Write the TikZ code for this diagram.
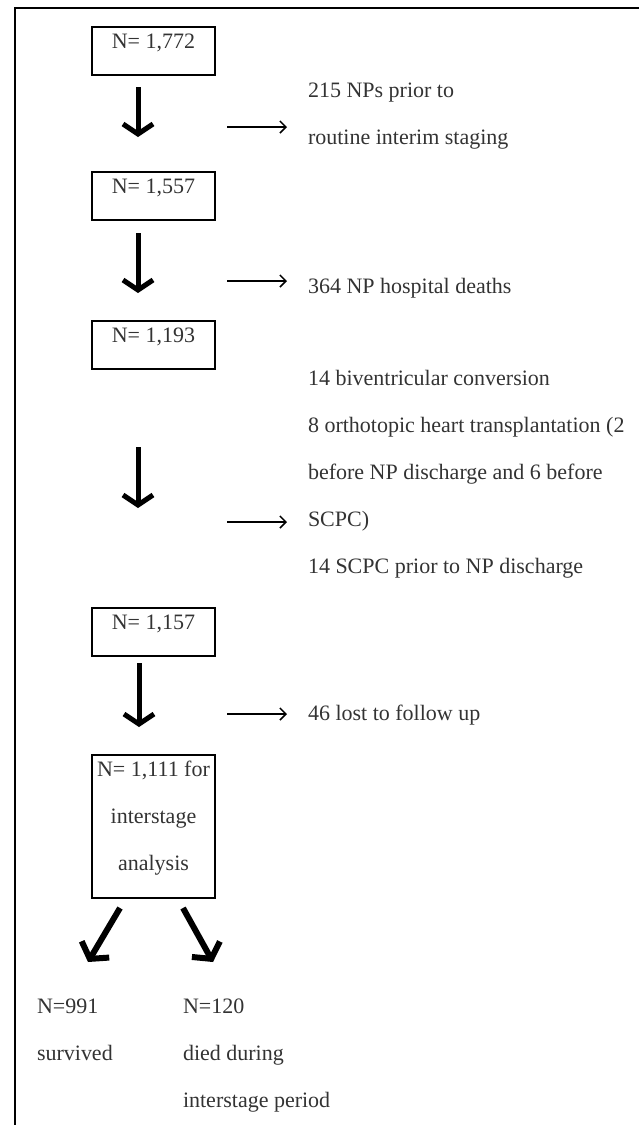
\documentclass[tikz,border=0pt]{standalone}
\usepackage{fontspec}
\setmainfont{Liberation Serif}
\usetikzlibrary{arrows.meta}
\begin{document}
\begin{tikzpicture}[x=1pt,y=-1pt,
  every node/.style={inner sep=0pt, outer sep=0pt, text=black!80, font=\fontsize{22}{47}\selectfont},
  box/.style={draw=black, line width=1.2pt, minimum width=123pt, inner xsep=2pt, inner ysep=0pt, align=center, anchor=north west, text height=21pt, text depth=27pt},
  lbl/.style={align=left, anchor=base west},
  downarr/.style={line width=5pt, -{Straight Barb[length=10pt,width=30pt]}},
  diagarr/.style={line width=6pt, -{Straight Barb[length=11pt,width=32pt]}},
  sidearr/.style={line width=1.5pt, -{Straight Barb[length=6pt,width=12pt]}},
  frame/.style={line width=2.2pt, draw=black}
]
\useasboundingbox (0,0) rectangle (639,1125);
\coordinate (fbl) at (15,1125);
\coordinate (ftl) at (15,8);
\coordinate (ftr) at (639,8);
\draw[frame] (fbl) -- (ftl) -- (ftr);

% boxes
\node[box] (b1) at (92,27) {N= 1,772};
\node[box] (b2) at (92,172) {N= 1,557};
\node[box] (b3) at (92,321) {N= 1,193};
\node[box] (b4) at (92,608) {N= 1,157};
\node[box, text height=115pt, text depth=28pt] (b5) at (92,755) {N= 1,111 for\\interstage\\analysis};

% side texts (base anchor = last line's baseline)
\node[lbl] (t1) at (308,144) {215 NPs prior to\\routine interim staging};
\node[lbl] (t2) at (308,293) {364 NP hospital deaths};
\node[lbl] (t3) at (308,573) {14 biventricular conversion\\8 orthotopic heart transplantation (2\\before NP discharge and 6 before\\SCPC)\\14 SCPC prior to NP discharge};
\node[lbl] (t4) at (308,720) {46 lost to follow up};
\node[lbl] (t5) at (37,1060) {N=991\\survived};
\node[lbl] (t6) at (183,1107) {N=120\\died during\\interstage period};

% down arrows
\coordinate (d1s) at (138,87);  \coordinate (d1e) at (138,137);
\coordinate (d2s) at (138,233); \coordinate (d2e) at (138,293);
\coordinate (d3s) at (138,447); \coordinate (d3e) at (138,508);
\coordinate (d4s) at (139,663); \coordinate (d4e) at (139,727);
\draw[downarr] (d1s) -- (d1e);
\draw[downarr] (d2s) -- (d2e);
\draw[downarr] (d3s) -- (d3e);
\draw[downarr] (d4s) -- (d4e);

% side arrows
\coordinate (r1s) at (227,127);
\coordinate (r2s) at (227,281);
\coordinate (r3s) at (227,522);
\coordinate (r4s) at (227,714);
\draw[sidearr] (r1s) -- ([xshift=-21pt]r1s -| t1.west);
\draw[sidearr] (r2s) -- ([xshift=-21pt]r2s -| t2.west);
\draw[sidearr] (r3s) -- ([xshift=-21pt]r3s -| t3.west);
\draw[sidearr] (r4s) -- ([xshift=-21pt]r4s -| t4.west);

% diagonal arrows
\coordinate (g1s) at (120,908); \coordinate (g1e) at (88,962);
\coordinate (g2s) at (183,908); \coordinate (g2e) at (213,962);
\draw[diagarr] (g1s) -- (g1e);
\draw[diagarr] (g2s) -- (g2e);
\end{tikzpicture}
\end{document}
